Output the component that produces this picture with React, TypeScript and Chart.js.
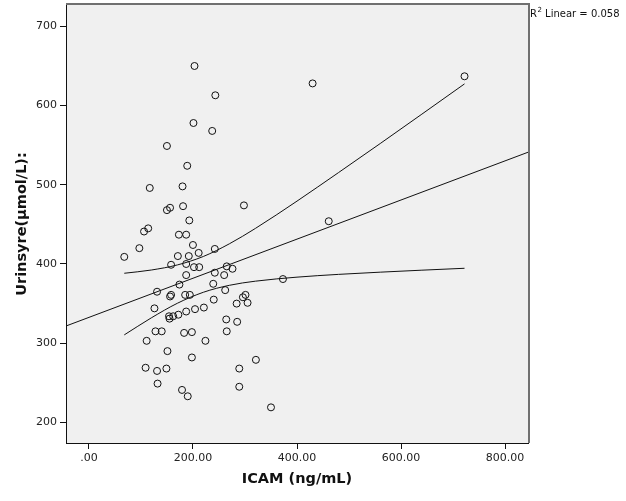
import React, { useEffect, useRef } from "react";
import { Chart, registerables } from "chart.js";

Chart.register(...registerables);

// Scatter data: ICAM (ng/mL) vs Urinsyre (µmol/L)
const icam: number[] = [
  203, 243, 201, 237, 150, 430, 722, 461, 189, 117, 180, 298, 156, 150, 181, 193, 114, 106, 173, 187,
  200, 97, 211, 242, 68, 171, 192, 158, 187, 202, 212, 265, 276, 242, 260, 187, 373, 174, 239, 131,
  262, 156, 158, 185, 194, 240, 296, 301, 284, 305, 126, 221, 204, 187, 172, 162, 154, 155, 264, 285,
  128, 140, 183, 198, 265, 111, 224, 151, 198, 321, 109, 289, 131, 149, 132, 289, 179, 190, 350,
];
const urinsyre: number[] = [
  650, 613, 578, 568, 549, 628, 637, 454, 524, 496, 498, 474, 471, 468, 473, 455, 445, 441, 437, 437,
  424, 420, 414, 419, 409, 410, 410, 399, 400, 396, 396, 397, 394, 389, 386, 386, 381, 374, 375, 365,
  367, 359, 361, 361, 361, 355, 358, 361, 350, 351, 344, 345, 343, 340, 336, 334, 334, 331, 330, 327,
  315, 315, 313, 314, 315, 303, 303, 290, 282, 279, 269, 268, 265, 268, 249, 245, 241, 233, 219,
];

// Linear fit line (endpoints at the axis limits)
const fitX: number[] = [-44, 844];
const fitY: number[] = [321.7, 541.1];

// Mean confidence band curves
const bandX: number[] = [68, 120, 170, 220, 270, 320, 400, 480, 560, 640, 722];
const bandUpper: number[] = [388.3, 392.4, 398.8, 409.5, 425.5, 444.9, 479.4, 515.5, 552.1, 589.2, 627.4];
const bandLower: number[] = [310.5, 332.0, 350.4, 364.3, 373.1, 378.3, 383.4, 386.9, 389.7, 392.2, 394.6];

const xTicks: number[] = [0, 200, 400, 600, 800];
const yTicks: number[] = [200, 300, 400, 500, 600, 700];

const xTitle = "ICAM (ng/mL)";
const yTitle = "Urinsyre(μmol/L):";
const r2Label = ["R", "2", " Linear = 0.058"];

const FONT = "'DejaVu Sans', sans-serif";

const decor = {
  id: "decor",
  beforeDraw(chart: any) {
    const { ctx, chartArea: a } = chart;
    ctx.save();
    ctx.fillStyle = "#ffffff";
    ctx.fillRect(0, 0, chart.width, chart.height);
    ctx.fillStyle = "#f0f0f0";
    ctx.fillRect(a.left, a.top, a.right - a.left, a.bottom - a.top);
    ctx.restore();
  },
  afterDraw(chart: any) {
    const { ctx, chartArea: a } = chart;
    ctx.save();
    // top and right frame
    ctx.strokeStyle = "#707070";
    ctx.lineWidth = 2;
    ctx.beginPath();
    ctx.moveTo(a.left, a.top - 1);
    ctx.lineTo(a.right + 1, a.top - 1);
    ctx.lineTo(a.right + 1, a.bottom);
    ctx.stroke();

    // axis titles
    ctx.fillStyle = "#111";
    ctx.textAlign = "center";
    ctx.textBaseline = "middle";
    ctx.font = `bold 14.5px ${FONT}`;
    ctx.fillText(xTitle, (a.left + a.right) / 2, 479);

    ctx.save();
    ctx.translate(22, (a.top + a.bottom) / 2);
    ctx.rotate(-Math.PI / 2);
    ctx.font = `bold 14.5px ${FONT}`;
    ctx.fillText(yTitle, 0, 0);
    ctx.restore();

    // R² label
    ctx.textAlign = "left";
    ctx.textBaseline = "alphabetic";
    let x = a.right + 2;
    ctx.font = `10px ${FONT}`;
    ctx.fillText(r2Label[0], x, 17);
    x += ctx.measureText(r2Label[0]).width + 0.5;
    ctx.font = `7px ${FONT}`;
    ctx.fillText(r2Label[1], x, 12);
    x += ctx.measureText(r2Label[1]).width;
    ctx.font = `10px ${FONT}`;
    ctx.fillText(r2Label[2], x, 17);
    ctx.restore();
  },
};

const noPad = (s: any) => {
  s.paddingTop = 0;
  s.paddingBottom = 0;
  s.paddingLeft = 0;
  s.paddingRight = 0;
};

export default function App() {
  const ref = useRef<HTMLCanvasElement | null>(null);

  useEffect(() => {
    document.body.style.margin = "0";
    const canvas = ref.current;
    if (!canvas) return;
    const points = icam.map((v, i) => ({ x: v, y: urinsyre[i] }));
    const line = fitX.map((v, i) => ({ x: v, y: fitY[i] }));
    const up = bandX.map((v, i) => ({ x: v, y: bandUpper[i] }));
    const lo = bandX.map((v, i) => ({ x: v, y: bandLower[i] }));
    const lineDs = (data: any[]) => ({
      data,
      showLine: true,
      borderColor: "#111",
      borderWidth: 1,
      pointRadius: 0,
      fill: false,
      tension: 0.4,
      cubicInterpolationMode: "monotone",
    });
    const chart = new Chart(canvas, {
      type: "scatter",
      data: {
        datasets: [
          lineDs(line) as any,
          lineDs(up) as any,
          lineDs(lo) as any,
          {
            data: points,
            pointRadius: 3.5,
            pointBorderWidth: 1,
            pointBorderColor: "#111",
            pointBackgroundColor: "rgba(0,0,0,0)",
            showLine: false,
          },
        ],
      },
      options: {
        responsive: false,
        animation: false,
        devicePixelRatio: 1,
        layout: { padding: { left: 0, right: 98, top: 5, bottom: 0 } },
        plugins: { legend: { display: false }, tooltip: { enabled: false } },
        scales: {
          x: {
            type: "linear",
            min: -44,
            max: 844,
            afterFit: (s: any) => {
              s.height = 58;
              noPad(s);
            },
            afterBuildTicks: (s: any) => {
              s.ticks = xTicks.map((v) => ({ value: v }));
            },
            grid: { drawOnChartArea: false, drawTicks: true, tickLength: 6, color: "#111" },
            border: { color: "#111", width: 1 },
            ticks: {
              padding: 3,
              color: "#222",
              font: { family: FONT, size: 11 },
              maxRotation: 0,
              callback: (v: any) => Number(v).toFixed(2).replace(/^0\./, "."),
            },
          },
          y: {
            type: "linear",
            min: 174,
            max: 727,
            afterFit: (s: any) => {
              s.width = 66;
              noPad(s);
            },
            afterBuildTicks: (s: any) => {
              s.ticks = yTicks.map((v) => ({ value: v }));
            },
            grid: { drawOnChartArea: false, drawTicks: true, tickLength: 6, color: "#111" },
            border: { color: "#111", width: 1 },
            ticks: {
              padding: 3,
              color: "#222",
              font: { family: FONT, size: 11 },
              callback: (v: any) => String(v),
            },
          },
        },
      },
      plugins: [decor],
    });
    return () => chart.destroy();
  }, []);

  return (
    <div style={{ width: 626, height: 501 }}>
      <canvas ref={ref} width={626} height={501} style={{ display: "block", width: 626, height: 501 }} />
    </div>
  );
}
